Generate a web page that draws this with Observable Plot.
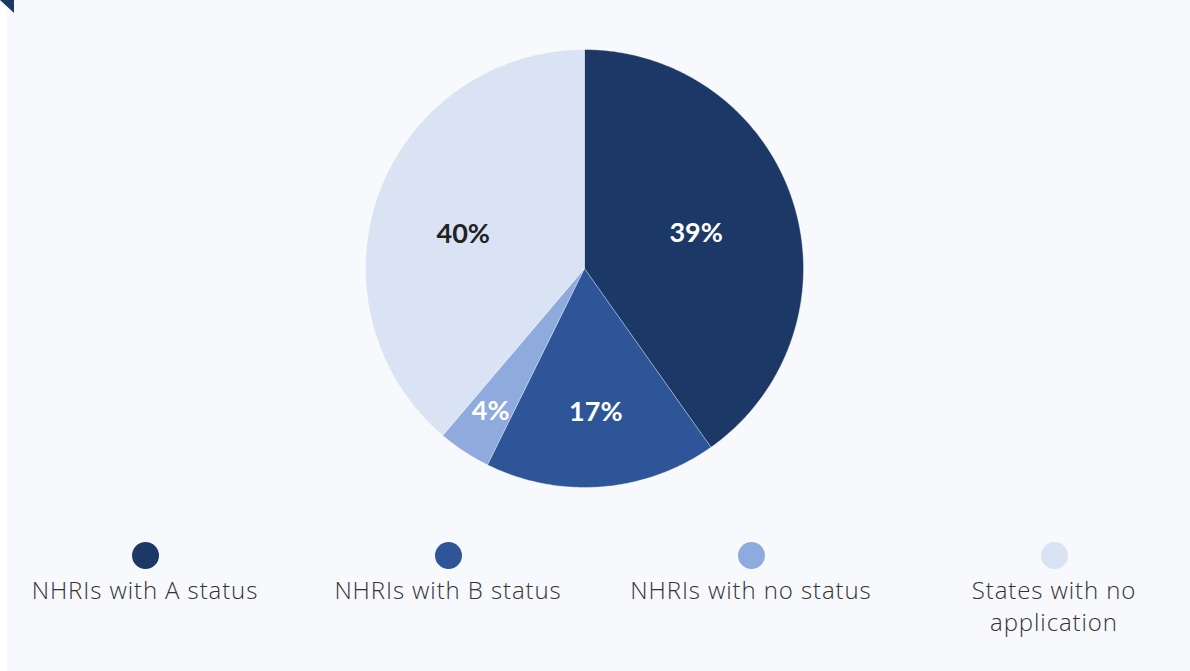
<!DOCTYPE html>
<html><head><meta charset="utf-8">
<script src="https://cdn.jsdelivr.net/npm/d3@7"></script>
<script src="https://cdn.jsdelivr.net/npm/@observablehq/plot@0.6"></script>
<style>
html,body{margin:0;padding:0;background:#ffffff;width:1190px;height:671px;overflow:hidden;}
#wrap{position:absolute;left:7px;top:0;width:1183px;height:671px;background:#f8f9fd;}
#corner{position:absolute;left:0;top:0;width:0;height:0;border-top:13px solid #1b3866;border-left:14px solid transparent;z-index:2;}
#chart{position:absolute;left:0;top:0;}
.item{position:absolute;top:542px;width:280px;text-align:center;font-family:"Open Sans",Lato,sans-serif;font-weight:300;font-size:24px;letter-spacing:0.9px;color:#333333;line-height:32px;}
.sw{width:27px;height:27px;border-radius:50%;margin:0 auto 5px;}
</style>
</head><body>
<div id="corner"></div>
<div id="wrap"><div id="chart"></div><div id="legend"></div></div>
<script>
// ---- data ----
const categories = ["NHRIs with A status", "NHRIs with B status", "NHRIs with no status", "States with no application"];
const shares = [40.2, 17.1, 3.9, 38.8];           // slice sizes (%)
const pctLabels = ["39%", "17%", "4%", "40%"];     // printed labels
const colors = ["#1b3866", "#2d5597", "#8faadc", "#dae3f3"];
const labelColors = ["#ffffff", "#ffffff", "#ffffff", "#222222"];
const labelRadius = [0.535, 0.66, 0.78, 0.59];     // label placement (fraction of radius)
const labelDy = [0, 0, 0, 10];                     // label nudge (px)

// ---- geometry (pie drawn in a unit circle through Plot's x/y scales) ----
const total = d3.sum(shares);
const pts = [];
const labs = [];
let acc = 0;
shares.forEach((v, i) => {
  const a0 = acc / total * 2 * Math.PI;
  acc += v;
  const a1 = acc / total * 2 * Math.PI;
  pts.push({name: categories[i], x: 0, y: 0});
  const n = Math.max(4, Math.ceil((a1 - a0) / (Math.PI / 360)));
  for (let k = 0; k <= n; k++) {
    const a = a0 + (a1 - a0) * k / n;
    pts.push({name: categories[i], x: Math.sin(a), y: Math.cos(a)});
  }
  const am = (a0 + a1) / 2;
  labs.push({name: categories[i], text: pctLabels[i], col: labelColors[i], dy: labelDy[i],
             x: labelRadius[i] * Math.sin(am), y: labelRadius[i] * Math.cos(am)});
});

const cx = 577, cy = 268, R = 219;
const font = "Lato, 'Open Sans', sans-serif";
const chart = Plot.plot({
  width: 1183,
  height: 520,
  margin: 0,
  style: {background: "transparent"},
  x: {domain: [-1, 1], range: [cx - R, cx + R], axis: null},
  y: {domain: [-1, 1], range: [cy + R, cy - R], axis: null},
  color: {domain: categories, range: colors},
  marks: [
    Plot.line(pts, {x: "x", y: "y", z: "name", fill: "name", stroke: "#ffffff", strokeWidth: 0.8, strokeOpacity: 0.5, curve: "linear"}),
    ...labs.map(l => Plot.text([l], {x: "x", y: "y", text: "text", dy: l.dy, fill: l.col, fontSize: 27, fontWeight: "bold", fontFamily: font}))
  ]
});
document.getElementById("chart").appendChild(chart);

// ---- legend ----
const legend = document.getElementById("legend");
const legendCenters = [138, 441, 744, 1047];
categories.forEach((c, i) => {
  const it = document.createElement("div");
  it.className = "item";
  it.style.left = (legendCenters[i] - 140) + "px";
  if (i === 3) it.style.width = "210px", it.style.left = (legendCenters[i] - 105) + "px";
  const sw = document.createElement("div");
  sw.className = "sw";
  sw.style.background = colors[i];
  const tx = document.createElement("div");
  tx.textContent = c;
  it.appendChild(sw);
  it.appendChild(tx);
  legend.appendChild(it);
});
</script>
</body></html>
